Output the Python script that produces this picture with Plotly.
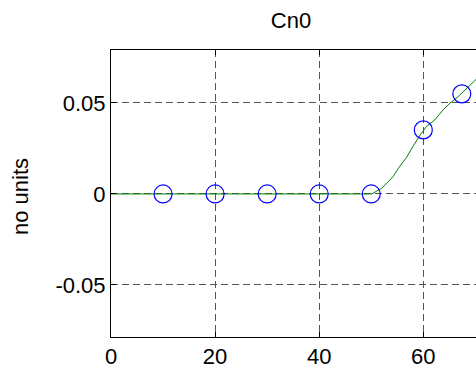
import plotly.graph_objects as go

# Marker samples
marker_x = [10, 20, 30, 40, 50, 60, 67.4]
marker_y = [0, 0, 0, 0, 0, 0.0352, 0.0550]

# Continuous curve
line_x = [0, 10, 20, 30, 40, 50.1, 52.0, 54.2, 55.2, 56.8, 58.0, 59.4, 60.6, 62.2, 63.8, 65.1, 66.7, 68.3, 69.9, 71]
line_y = [0, 0, 0, 0, 0, 0, 0.0031, 0.0095, 0.0141, 0.0202, 0.0260, 0.0324, 0.0370, 0.0407, 0.0462, 0.0498, 0.0535, 0.0581, 0.0623, 0.0650]

x_ticks = [0, 20, 40, 60]
y_ticks = [-0.05, 0, 0.05]
y_tick_labels = ["-0.05", "0", "0.05"]

FONT = "Liberation Sans, Arial, sans-serif"
FS = 22

fig = go.Figure()
fig.add_trace(go.Scatter(x=line_x, y=line_y, mode="lines",
                         line=dict(color="#008000", width=1), showlegend=False))
fig.add_trace(go.Scatter(x=marker_x, y=marker_y, mode="markers",
                         marker=dict(symbol="circle-open", size=18, color="#0000ff",
                                     line=dict(width=1.2, color="#0000ff")),
                         showlegend=False))

W, H = 476, 377
L, T, B = 111, 50, 40
fig.update_layout(
    width=W, height=H,
    margin=dict(l=L, r=0, t=T, b=B, autoexpand=False),
    paper_bgcolor="white", plot_bgcolor="white",
    font=dict(family=FONT, size=FS, color="black"),
    title=dict(text="Cn0", x=291 / W, xref="container", xanchor="center",
               y=1 - 20 / H, yref="container", yanchor="middle",
               font=dict(family=FONT, size=FS, color="black")),
    xaxis=dict(range=[0, (W - L) / 5.205], tickvals=x_ticks, ticks="inside", ticklen=5,
               tickcolor="black", showline=True, linecolor="black", linewidth=1,
               mirror="ticks", showgrid=True, gridcolor="#555555", griddash="7px,4px",
               gridwidth=1, zeroline=False, tickfont=dict(size=FS)),
    yaxis=dict(range=[-0.0786, 0.0791], tickvals=y_ticks, ticktext=y_tick_labels,
               ticks="inside", ticklen=5, tickcolor="black", showline=True,
               linecolor="black", linewidth=1, mirror=False, showgrid=True,
               gridcolor="#555555", griddash="7px,4px", gridwidth=1, zeroline=False,
               tickfont=dict(size=FS)),
    annotations=[dict(text="no units", textangle=-90, xref="paper", yref="paper",
                      x=(20 - L) / (W - L), y=(337 - 197) / (H - T - B),
                      xanchor="center", yanchor="middle", showarrow=False,
                      font=dict(family=FONT, size=FS, color="black"))],
)

fig.write_html("out.html", config={"displayModeBar": False, "staticPlot": True},
               post_script="document.body.style.margin='0';document.body.style.overflow='hidden';")
